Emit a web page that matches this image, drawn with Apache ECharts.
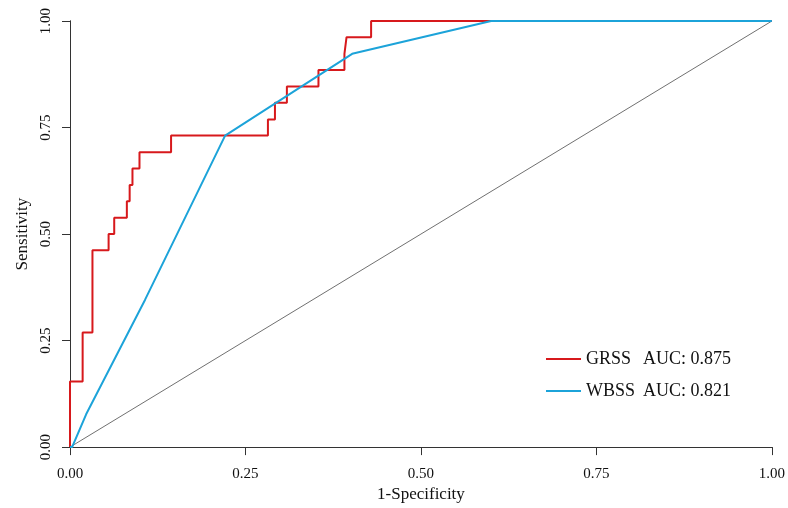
<!DOCTYPE html>
<html>
<head>
<meta charset="utf-8">
<script src="https://cdn.jsdelivr.net/npm/echarts@6/dist/echarts.min.js"></script>
<style>
  html, body { margin: 0; padding: 0; background: #fff; }
  #roc { width: 788px; height: 508px; }
</style>
</head>
<body>
<div id="roc"></div>
<script>
// ROC points [1-specificity, sensitivity]
const grssPoints = [
  [0, 0], [0, 0.154], [0.018, 0.154], [0.018, 0.269], [0.032, 0.269],
  [0.032, 0.462], [0.055, 0.462], [0.055, 0.5], [0.063, 0.5], [0.063, 0.538],
  [0.081, 0.538], [0.081, 0.577], [0.085, 0.577], [0.085, 0.615], [0.089, 0.615],
  [0.089, 0.654], [0.099, 0.654], [0.099, 0.692], [0.144, 0.692], [0.144, 0.731],
  [0.282, 0.731], [0.282, 0.769], [0.292, 0.769], [0.292, 0.808], [0.309, 0.808],
  [0.309, 0.846], [0.354, 0.846], [0.354, 0.885], [0.391, 0.885], [0.391, 0.923],
  [0.394, 0.962], [0.429, 0.962], [0.429, 1], [1, 1]
];
const wbssPoints = [
  [0, 0], [0.003, 0], [0.023, 0.077], [0.107, 0.346], [0.221, 0.731],
  [0.402, 0.923], [0.6, 1], [1, 1]
];
const refPoints = [[0, 0], [1, 1]];
const seriesNames = ['GRSS', 'WBSS'];
const aucLabels = ['AUC: 0.875', 'AUC: 0.821'];

const serif = '"Liberation Serif", "DejaVu Serif", serif';
const axisColor = '#333';

const chart = echarts.init(document.getElementById('roc'));
chart.setOption({
  animation: false,
  grid: { left: 70, right: 15, top: 21, bottom: 60 },
  legend: {
    data: seriesNames,
    orient: 'vertical',
    left: 541,
    top: 345,
    icon: 'rect',
    itemWidth: 35,
    itemHeight: 2,
    itemGap: 14,
    textStyle: {
      fontFamily: serif, fontSize: 18, color: '#111', lineHeight: 18,
      rich: {
        n: { fontFamily: serif, fontSize: 18, color: '#111', width: 57 },
        a: { fontFamily: serif, fontSize: 18, color: '#111' }
      }
    },
    formatter: (name) => '{n|' + name + '}{a|' + aucLabels[seriesNames.indexOf(name)] + '}'
  },
  xAxis: [{
    type: 'value', min: 0, max: 1, interval: 0.25,
    name: '1-Specificity', nameLocation: 'middle', nameGap: 38,
    nameTextStyle: { fontFamily: serif, fontSize: 17, color: '#111' },
    axisLine: { show: true, lineStyle: { color: axisColor, width: 1 } },
    axisTick: { show: true, length: 8, lineStyle: { color: axisColor } },
    axisLabel: { fontFamily: serif, fontSize: 15, color: '#111', margin: 19,
      formatter: (v) => v.toFixed(2) },
    splitLine: { show: false }
  }, {
    type: 'value', min: 0, max: 1, position: 'top',
    axisLine: { show: true, lineStyle: { color: axisColor, width: 1 } },
    axisTick: { show: false }, axisLabel: { show: false }, splitLine: { show: false }
  }],
  yAxis: [{
    type: 'value', min: 0, max: 1, interval: 0.25,
    name: 'Sensitivity', nameLocation: 'middle', nameGap: 38,
    nameTextStyle: { fontFamily: serif, fontSize: 17, color: '#111' },
    axisLine: { show: true, lineStyle: { color: axisColor, width: 1 } },
    axisTick: { show: true, length: 8, lineStyle: { color: axisColor } },
    axisLabel: { fontFamily: serif, fontSize: 15, color: '#111', margin: 16, rotate: 90,
      formatter: (v) => v.toFixed(2) },
    splitLine: { show: false }
  }, {
    type: 'value', min: 0, max: 1, position: 'right',
    axisLine: { show: true, lineStyle: { color: axisColor, width: 1 } },
    axisTick: { show: false }, axisLabel: { show: false }, splitLine: { show: false }
  }],
  series: [
    {
      name: 'ref', type: 'line', data: refPoints, symbol: 'none', silent: true,
      lineStyle: { color: '#707070', width: 1 }, z: 1
    },
    {
      name: seriesNames[0], type: 'line', data: grssPoints, symbol: 'none',
      lineStyle: { color: '#d7191c', width: 2 }, itemStyle: { color: '#d7191c' }, z: 2
    },
    {
      name: seriesNames[1], type: 'line', data: wbssPoints, symbol: 'none',
      lineStyle: { color: '#1ca3d9', width: 2 }, itemStyle: { color: '#1ca3d9' }, z: 3
    }
  ]
});
</script>
</body>
</html>
